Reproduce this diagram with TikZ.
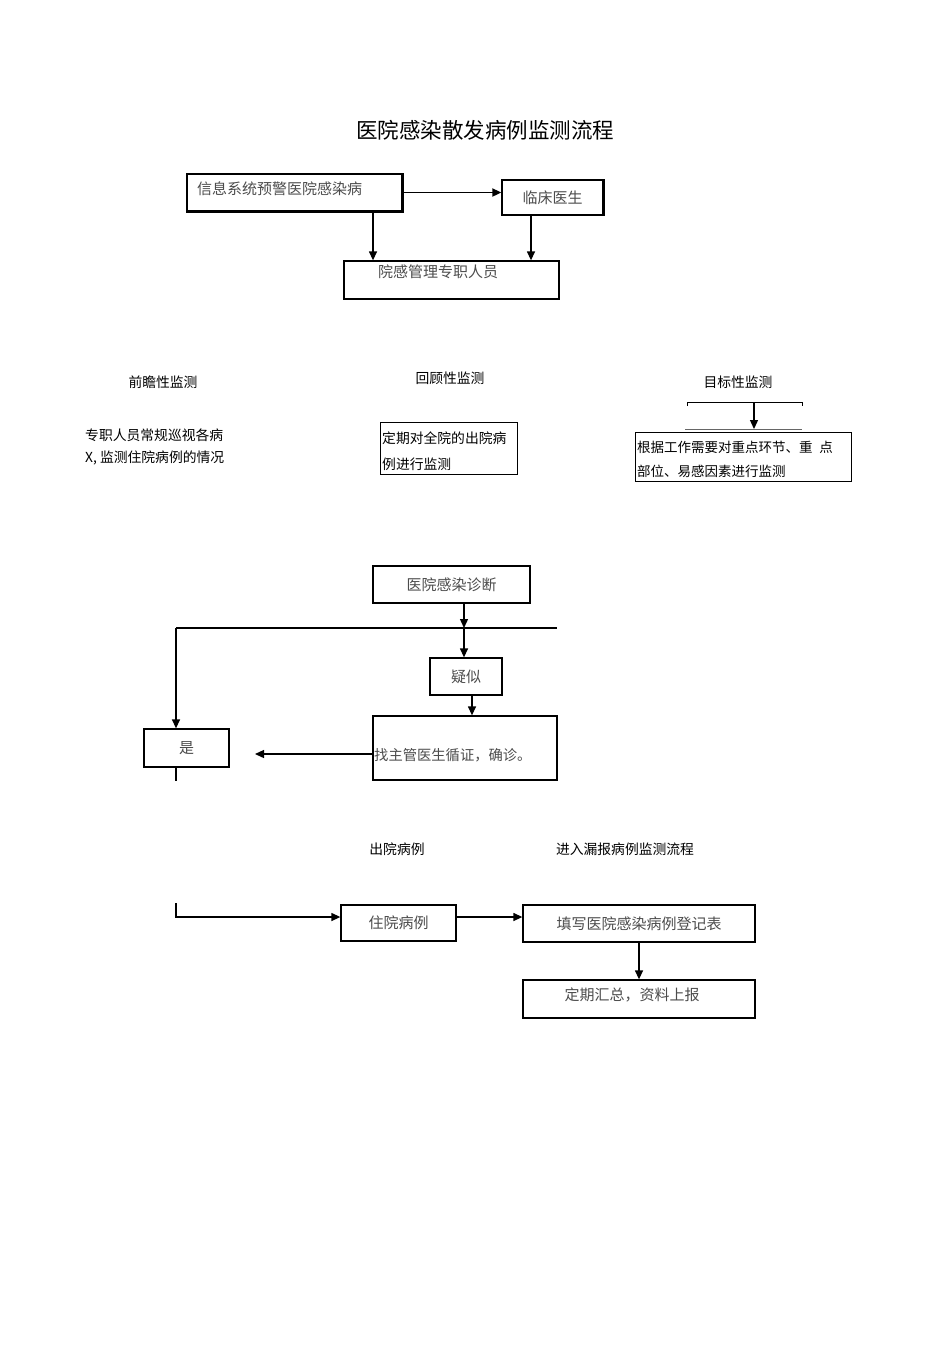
\documentclass[tikz,border=0pt]{standalone}
\usepackage{fontspec}
\setmainfont{Noto Sans CJK SC}
\usetikzlibrary{arrows.meta}
\tikzset{
  box/.style={draw, line width=1.3pt, inner sep=0pt, font=\fontsize{15}{18}\selectfont, text=black!70},
  thinbox/.style={draw, line width=0.6pt, inner sep=0pt},
  lbl/.style={inner sep=0pt, font=\fontsize{13.8}{16}\selectfont},
  boxtext/.style={inner sep=0pt, font=\fontsize{15}{18}\selectfont, text=black!70},
  arr/.style={line width=1.3pt, -{Triangle[length=9pt,width=8pt]}},
  ln/.style={line width=1.3pt},
  heavy/.style={line width=2.6pt}
}
\begin{document}
\begin{tikzpicture}[x=1pt,y=-1pt]
\path[use as bounding box, fill=white] (0,0) rectangle (950,1345);

% title
\node[inner sep=0pt, font=\fontsize{21.5}{24}\selectfont] (title) at (485,130) {医院感染散发病例监测流程};

% top section
\node[box, minimum width=215pt, minimum height=37pt] (b1) at (294.5,192.5) {};
\node[boxtext, anchor=west] (t1) at (197,189) {信息系统预警医院感染病};
\node[box, minimum width=101pt, minimum height=35pt] (b2) at (552.5,197.5) {临床医生};
\node[box, minimum width=215pt, minimum height=38pt] (b3) at (451.5,280) {};
\node[boxtext, anchor=west] (t3) at (378,272) {院感管理专职人员};
\draw[heavy] (b1.north east) -- (b1.south east) -- (b1.south west);
\draw[heavy] (b2.north east) -- (b2.south east);

\draw[arr, line width=1.8pt] (b1.east) -- (b1.east -| b2.west);
\draw[arr] ([xshift=78.5pt]b1.south) -- ([xshift=78.5pt]b1.south |- b3.north);
\draw[arr] ([xshift=-21.5pt]b2.south) -- ([xshift=-21.5pt]b2.south |- b3.north);

% monitoring types
\node[lbl] (l1) at (163,382) {前瞻性监测};
\node[lbl] (l2) at (450,378) {回顾性监测};
\node[lbl] (l3) at (738,382) {目标性监测};

\node[lbl, anchor=west] (p1) at (85,435) {专职人员常规巡视各病};
\node[lbl, anchor=west] (p2) at (85,458) {X, 监测住院病例的情况};

\node[thinbox, minimum width=137pt, minimum height=52pt] (rbox) at (448.5,448) {};
\node[lbl, anchor=west] (r1) at (382,438) {定期对全院的出院病};
\node[lbl, anchor=west] (r2) at (382,464) {例进行监测};

\coordinate (tbl) at (687,402);
\coordinate (tbr) at (802,402);
\coordinate (tb) at (754,402);
\coordinate (tll) at (685,429);
\coordinate (tlr) at (802,429);
\draw[line width=1pt] ([yshift=-4pt]tbl) -- (tbl) -- (tbr) -- ([yshift=-4pt]tbr);
\draw[line width=1pt, black!60] (tll) -- (tlr);
\draw[arr] (tb) -- (tb |- tll);
\node[thinbox, minimum width=216pt, minimum height=49pt] (tbox) at (743,456.5) {};
\node[lbl, anchor=west, font=\fontsize{13.5}{16}\selectfont] (g1) at (637,447) {根据工作需要对重点环节、重\hspace{0.5em}点};
\node[lbl, anchor=west, font=\fontsize{13.5}{16}\selectfont] (g2) at (637,471) {部位、易感因素进行监测};

% diagnosis section
\node[box, line width=2pt, minimum width=157pt, minimum height=37pt] (diag) at (451.5,584.5) {医院感染诊断};
\coordinate (j) at (464,628);
\coordinate (jl) at (176,628);
\coordinate (jr) at (557,628);
\draw[ln] (jl) -- (jr);
\draw[arr] ([xshift=12.5pt]diag.south) -- (j);
\node[box, minimum width=72pt, minimum height=37pt] (sus) at (466,676.5) {疑似};
\draw[arr] (j) -- (j |- sus.north);
\node[box, minimum width=85pt, minimum height=38pt] (yes) at (186.5,748) {是};
\draw[arr] (jl) -- (jl |- yes.north);
\node[box, minimum width=184pt, minimum height=64pt] (conf) at (465,748) {};
\node[boxtext, anchor=west, font=\fontsize{14.3}{18}\selectfont] (tc) at (374,755) {找主管医生循证，确诊。};
\draw[arr] ([xshift=6pt]sus.south) -- ([xshift=6pt]sus.south |- conf.north);
\coordinate (ya) at (255,754);
\draw[arr] (conf.west |- ya) -- (ya);
\draw[ln] (yes.south -| jl) -- ++(0,13);

% outcome labels
\node[lbl] (o1) at (397,849) {出院病例};
\node[lbl] (o2) at (625,849) {进入漏报病例监测流程};

% bottom section
\coordinate (c0) at (176,903);
\coordinate (c1) at (176,917);
\node[box, minimum width=115pt, minimum height=36pt] (hosp) at (398.5,923) {住院病例};
\node[box, minimum width=232pt, minimum height=37pt] (fill) at (639,923.5) {填写医院感染病例登记表};
\node[box, minimum width=232pt, minimum height=38pt] (rep) at (639,999) {};
\node[boxtext] (tr) at (632,995) {定期汇总，资料上报};
\draw[arr] (c0) -- (c1) -- (c1 -| hosp.west);
\draw[arr] (c1 -| hosp.east) -- (c1 -| fill.west);
\draw[arr] (fill.south) -- (rep.north);
\end{tikzpicture}
\end{document}
